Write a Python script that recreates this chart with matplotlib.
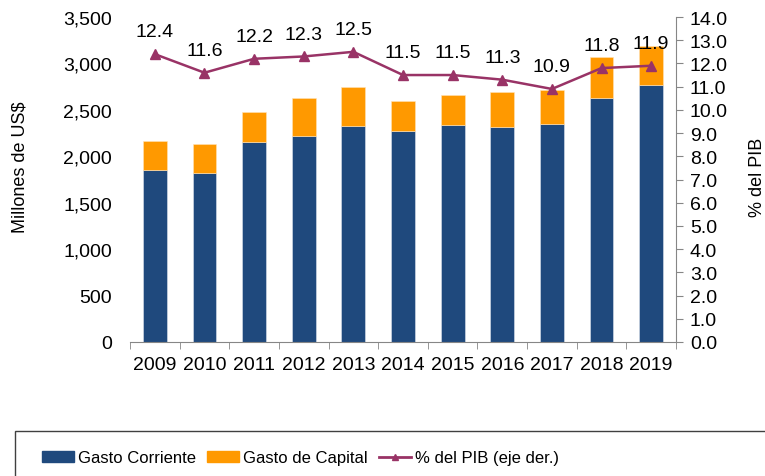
import matplotlib
matplotlib.use("Agg")
import matplotlib.pyplot as plt
from matplotlib import font_manager
import numpy as np
from matplotlib.patches import Rectangle
from matplotlib.lines import Line2D

plt.rcParams['font.family'] = ['Liberation Sans', 'DejaVu Sans']
names = {f.name for f in font_manager.fontManager.ttflist}
narrow = 'Liberation Sans Narrow' if 'Liberation Sans Narrow' in names else None

years = ['2009', '2010', '2011', '2012', '2013', '2014', '2015', '2016', '2017', '2018', '2019']
gasto_corriente = [1847, 1818, 2159, 2216, 2327, 2270, 2341, 2313, 2352, 2631, 2768]
gasto_capital = [322, 319, 319, 412, 419, 326, 315, 383, 358, 433, 425]
pct_pib = [12.4, 11.6, 12.2, 12.3, 12.5, 11.5, 11.5, 11.3, 10.9, 11.8, 11.9]

c_blue = '#1F497D'
c_orange = '#FF9900'
c_line = '#993366'
c_spine = '#868686'
fs = 14

fig = plt.figure(figsize=(7.65, 4.77), dpi=100)
ax = fig.add_axes([130/765, 1-343/477, 546/765, 325/477])
x = np.arange(len(years))
ax.bar(x, gasto_corriente, width=0.48, color=c_blue, edgecolor='#DDE3EC', linewidth=0.4)
ax.bar(x, gasto_capital, width=0.48, bottom=gasto_corriente, color=c_orange, edgecolor='#FFE3B8', linewidth=0.4)
ax.set_xlim(-0.5, len(years)-0.5)
ax.set_ylim(0, 3500)
yt = np.arange(0, 3501, 500)
ax.set_yticks(yt)
ax.set_yticklabels([f'{v:,.0f}' for v in yt], fontsize=fs)
ax.set_xticks(x)
ax.set_xticklabels(years, fontsize=fs)
ax.set_xticks(np.arange(-0.5, len(years), 1), minor=True)
ax.tick_params(axis='x', which='major', length=0, pad=10)
ax.tick_params(axis='x', which='minor', length=5, color=c_spine)
ax.tick_params(axis='y', length=0, pad=13)
ax.set_ylabel('Millones de US$', fontsize=13)
ax.yaxis.set_label_coords(-0.185, 0.54)
for s in ['top', 'right', 'left']:
    ax.spines[s].set_visible(False)
ax.spines['bottom'].set_color(c_spine)

ax2 = ax.twinx()
ax2.plot(x, pct_pib, color=c_line, marker='^', markersize=6.5, linewidth=1.8)
ax2.set_ylim(0, 14)
rt = np.arange(0, 14.01, 1)
ax2.set_yticks(rt)
ax2.set_yticklabels([f'{v:.1f}' for v in rt], fontsize=fs)
ax2.tick_params(axis='y', length=5, color=c_spine, pad=5)
ax2.set_ylabel('% del PIB', fontsize=13, rotation=90)
ax2.yaxis.set_label_coords(1.134, 0.51)
for s in ['top', 'left', 'bottom']:
    ax2.spines[s].set_visible(False)
ax2.spines['right'].set_color(c_spine)
for xi, v in zip(x, pct_pib):
    ax2.annotate(f'{v:.1f}', (xi, v), xytext=(0, 16), textcoords='offset points',
                 ha='center', va='center', fontsize=fs)

# legend box
fig.patches.append(Rectangle((15/765, -0.1), 1.0, 1-432/477+0.1, transform=fig.transFigure,
                             facecolor='white', edgecolor='#404040', linewidth=1))
handles = [Rectangle((0, 0), 1, 1, color=c_blue), Rectangle((0, 0), 1, 1, color=c_orange),
           Line2D([], [], color=c_line, marker='^', markersize=5, linewidth=2)]
labels = ['Gasto Corriente', 'Gasto de Capital', '% del PIB (eje der.)']
if narrow:
    prop = {'family': narrow, 'size': 13}
    lfs = 13 * 1.389
else:
    prop = {'size': 12}
    lfs = 12 * 1.389
fig.legend(handles, labels, loc='center left', bbox_to_anchor=(42/765, 1-459/477), ncol=3,
           frameon=False, prop=prop, handlelength=32/lfs, borderpad=0,
           handleheight=0.6, columnspacing=11/lfs, handletextpad=4/lfs, borderaxespad=0)

fig.savefig('out.png', dpi=100)
